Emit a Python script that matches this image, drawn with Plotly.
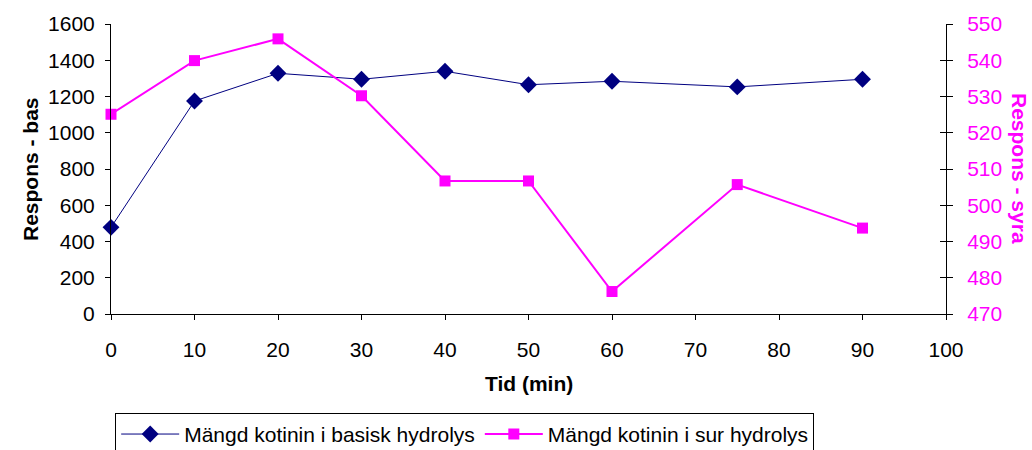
import plotly.graph_objects as go

tid = [0, 10, 20, 30, 40, 50, 60, 75, 90]
basisk = [478, 1175, 1328, 1295, 1339, 1265, 1284, 1253, 1295]
sur = [525.1, 539.9, 545.9, 530.2, 506.7, 506.7, 476.2, 505.7, 493.7]

x_ticks = list(range(0, 101, 10))
y1_ticks = list(range(0, 1601, 200))
y2_ticks = list(range(470, 551, 10))

FONT = "Liberation Sans, Arial, sans-serif"
NAVY = "#000080"
MAGENTA = "#FF00FF"
FS = 21

fig = go.Figure()
fig.add_trace(go.Scatter(
    x=tid, y=basisk, name="Mängd kotinin i basisk hydrolys",
    mode="lines+markers", line=dict(color=NAVY, width=1),
    marker=dict(symbol="diamond", size=13, color=NAVY), yaxis="y", cliponaxis=False))
fig.add_trace(go.Scatter(
    x=tid, y=sur, name="Mängd kotinin i sur hydrolys",
    mode="lines+markers", line=dict(color=MAGENTA, width=2),
    marker=dict(symbol="square", size=11, color=MAGENTA), yaxis="y2", cliponaxis=False))
fig.add_trace(go.Scatter(x=[None], y=[None], yaxis="y3", showlegend=False, hoverinfo="skip"))

fig.update_layout(
    width=1032, height=450,
    margin=dict(l=111, r=86, t=24, b=136, autoexpand=False),
    paper_bgcolor="white", plot_bgcolor="white",
    font=dict(family=FONT, size=FS, color="black"),
    showlegend=True,
    xaxis=dict(range=[0, 100], tickvals=x_ticks, showgrid=False, zeroline=False,
               showline=True, linecolor="black", linewidth=1,
               ticks="outside", ticklen=5, tickcolor="black", ticklabelstandoff=12),
    yaxis=dict(range=[0, 1600], tickvals=y1_ticks, showgrid=False, zeroline=False,
               showline=True, linecolor="black", linewidth=1,
               ticks="outside", ticklen=5, tickcolor="black", ticklabelstandoff=6),
    yaxis2=dict(range=[470, 550], tickvals=y2_ticks, overlaying="y", side="right",
                showgrid=False, zeroline=False, showline=True, linecolor="black",
                linewidth=1, ticks="outside", ticklen=6, tickcolor="black",
                ticklabelstandoff=10, tickfont=dict(color=MAGENTA)),
    yaxis3=dict(range=[470, 550], tickvals=y2_ticks, overlaying="y", side="right",
                anchor="x", showgrid=False, zeroline=False, showline=False,
                ticks="inside", ticklen=6, tickcolor="black", showticklabels=False),
    legend=dict(orientation="h", x=0.005, y=-0.341, xanchor="left", yanchor="top",
                bordercolor="black", borderwidth=1, bgcolor="white",
                font=dict(size=FS), itemwidth=58, tracegroupgap=0),
    annotations=[
        dict(text="<b>Respons - syra</b>", textangle=90, xref="paper", yref="paper",
             x=1.0886, y=0.5, showarrow=False, font=dict(color=MAGENTA, size=FS),
             xanchor="center", yanchor="middle"),
        dict(text="<b>Respons - bas</b>", textangle=-90, xref="paper", yref="paper",
             x=-0.097, y=0.5, showarrow=False, font=dict(size=FS),
             xanchor="center", yanchor="middle"),
        dict(text="<b>Tid (min)</b>", xref="paper", yref="paper",
             x=0.5, y=-0.238, showarrow=False, font=dict(size=FS),
             xanchor="center", yanchor="middle"),
    ],
)

fig.write_html("out.html")
